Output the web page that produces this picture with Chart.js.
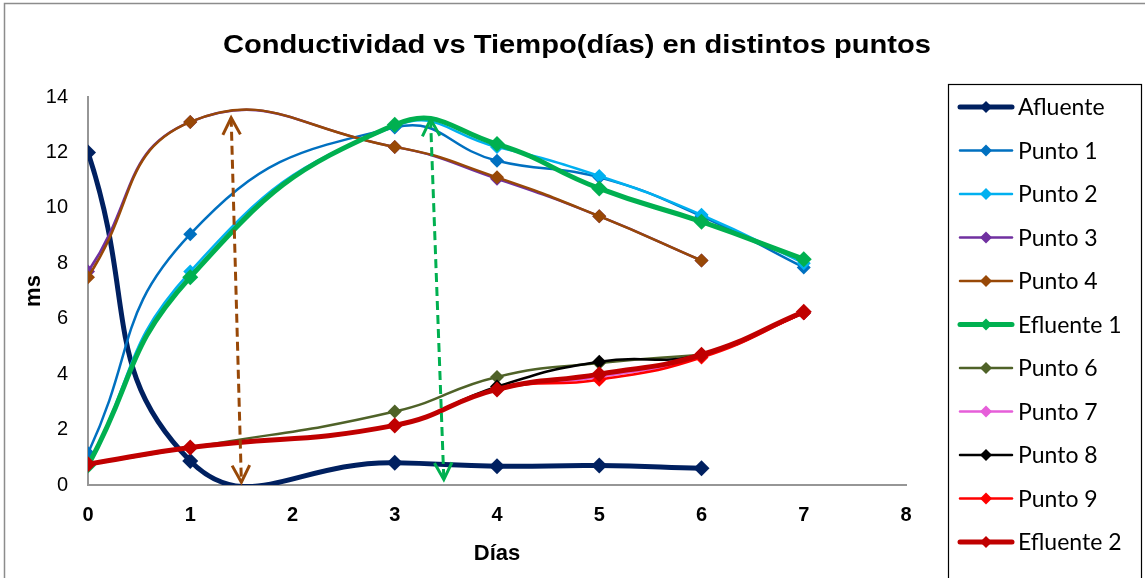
<!DOCTYPE html>
<html lang="es">
    <head>
        <meta charset="UTF-8" />
        <title>Conductividad vs Tiempo</title>
        <script src="https://cdn.jsdelivr.net/npm/chart.js"></script>
        <style>
            html, body { margin: 0; padding: 0; background: #fff; }
            #wrap { position: relative; width: 1145px; height: 578px; }
        </style>
    </head>
    <body>
        <div id="wrap"><canvas id="chart" width="1145" height="578"></canvas></div>

        <script>
            // días de muestreo
            const dias = [0, 1, 3, 4, 5, 6, 7];

            // conductividad (ms) por punto de muestreo
            const afluente = [12.0, 0.87, 0.8, 0.68, 0.7, 0.6];
            const punto1 = [1.15, 9.05, 12.9, 11.7, 11.1, 9.7, 7.85];
            const punto2 = [0.7, 7.7, 12.95, 12.2, 11.15, 9.75, 8.0];
            const punto3 = [7.7, 13.1, 12.2, 11.05, 9.7, 8.1];
            const punto4 = [7.5, 13.1, 12.2, 11.1, 9.7, 8.1];
            const efluente1 = [0.7, 7.5, 13.0, 12.3, 10.7, 9.5, 8.15];
            const punto6 = [0.75, 1.35, 2.65, 3.9, 4.4, 4.7];
            const punto7 = [0.75, 1.35, 2.15, 3.45, 3.9, 4.65, 6.2];
            const punto8 = [0.75, 1.35, 2.15, 3.55, 4.45, 4.7, 6.2];
            const punto9 = [0.75, 1.35, 2.15, 3.45, 3.8, 4.6, 6.2];
            const efluente2 = [0.75, 1.35, 2.15, 3.45, 4.0, 4.7, 6.25];

            const xTicks = [0, 1, 2, 3, 4, 5, 6, 7, 8];
            const yTicks = [0, 2, 4, 6, 8, 10, 12, 14];

            // flechas punteadas (x, y de inicio y fin)
            const flechaMarronX = [1.4, 1.5];
            const flechaMarronY = [13.25, 0.1];
            const flechaVerdeX = [3.35, 3.48];
            const flechaVerdeY = [13.2, 0.2];

            const titulo = 'Conductividad vs Tiempo(días) en distintos puntos';

            const series = [
                { label: 'Afluente', data: afluente, color: '#002060', width: 5 },
                { label: 'Punto 1', data: punto1, color: '#0070C0', width: 2.5 },
                { label: 'Punto 2', data: punto2, color: '#00B0F0', width: 2.5 },
                { label: 'Punto 3', data: punto3, color: '#7030A0', width: 2.5 },
                { label: 'Punto 4', data: punto4, color: '#984807', width: 2.5 },
                { label: 'Efluente 1', data: efluente1, color: '#00B050', width: 5 },
                { label: 'Punto 6', data: punto6, color: '#4F6228', width: 2.5 },
                { label: 'Punto 7', data: punto7, color: '#E65ED9', width: 2.5 },
                { label: 'Punto 8', data: punto8, color: '#000000', width: 2.5 },
                { label: 'Punto 9', data: punto9, color: '#FF0000', width: 2.5 },
                { label: 'Efluente 2', data: efluente2, color: '#C00000', width: 5 }
            ];

            const datasets = series.map((s, i) => ({
                label: s.label,
                data: s.data.map((v, j) => ({ x: dias[j], y: v })),
                borderColor: s.color,
                backgroundColor: s.color,
                borderWidth: s.width,
                pointStyle: 'rectRot',
                pointRadius: s.width > 3 ? 8 : 7,
                pointBorderWidth: 0,
                tension: 0.48,
                fill: false,
                order: series.length - i
            }));

            function drawArrow(ctx, x1, y1, x2, y2, color) {
                ctx.save();
                ctx.strokeStyle = color;
                ctx.lineWidth = 3;
                ctx.setLineDash([9, 5]);
                ctx.beginPath();
                ctx.moveTo(x1, y1);
                ctx.lineTo(x2, y2);
                ctx.stroke();
                ctx.setLineDash([]);
                const head = (px, py, ang) => {
                    const len = 19, spread = 0.48;
                    ctx.beginPath();
                    ctx.moveTo(px - len * Math.cos(ang - spread), py - len * Math.sin(ang - spread));
                    ctx.lineTo(px, py);
                    ctx.lineTo(px - len * Math.cos(ang + spread), py - len * Math.sin(ang + spread));
                    ctx.stroke();
                };
                const a = Math.atan2(y2 - y1, x2 - x1);
                head(x2, y2, a);
                head(x1, y1, a + Math.PI);
                ctx.restore();
            }

            const extras = {
                id: 'extras',
                afterDatasetsDraw(chart) {
                    const ctx = chart.ctx;
                    const xs = chart.scales.x, ys = chart.scales.y;
                    drawArrow(ctx,
                        xs.getPixelForValue(flechaMarronX[0]), ys.getPixelForValue(flechaMarronY[0]),
                        xs.getPixelForValue(flechaMarronX[1]), ys.getPixelForValue(flechaMarronY[1]), '#984807');
                    drawArrow(ctx,
                        xs.getPixelForValue(flechaVerdeX[0]), ys.getPixelForValue(flechaVerdeY[0]),
                        xs.getPixelForValue(flechaVerdeX[1]), ys.getPixelForValue(flechaVerdeY[1]), '#00B050');
                },
                afterDraw(chart) {
                    const ctx = chart.ctx;
                    ctx.save();
                    // marco exterior
                    ctx.strokeStyle = '#8c8c8c';
                    ctx.lineWidth = 1.5;
                    ctx.strokeRect(4.5, 3.5, 1150, 590);
                    // título (algo ensanchado, como en la figura original)
                    ctx.fillStyle = '#000';
                    ctx.font = 'bold 26px "Liberation Sans", Arial, sans-serif';
                    ctx.textAlign = 'center';
                    ctx.textBaseline = 'middle';
                    ctx.translate(577, 46);
                    ctx.scale(1.12, 1);
                    ctx.fillText(titulo, 0, 0);
                    ctx.setTransform(1, 0, 0, 1, 0, 0);
                    ctx.textAlign = 'left';
                    // leyenda
                    ctx.strokeStyle = '#000';
                    ctx.lineWidth = 1.2;
                    ctx.strokeRect(948.5, 84.5, 193, 510);
                    ctx.font = '23px Lato, "Open Sans", sans-serif';
                    chart.data.datasets.forEach((d, i) => {
                        const y = 107 + i * 43.5;
                        ctx.strokeStyle = d.borderColor;
                        ctx.lineWidth = d.borderWidth;
                        ctx.lineCap = 'round';
                        ctx.beginPath();
                        ctx.moveTo(960, y);
                        ctx.lineTo(1012, y);
                        ctx.stroke();
                        ctx.fillStyle = d.borderColor;
                        ctx.beginPath();
                        ctx.moveTo(986, y - 6);
                        ctx.lineTo(992, y);
                        ctx.lineTo(986, y + 6);
                        ctx.lineTo(980, y);
                        ctx.closePath();
                        ctx.fill();
                        ctx.fillStyle = '#000';
                        ctx.fillText(d.label, 1018, y + 1);
                    });
                    ctx.restore();
                }
            };

            new Chart(document.getElementById('chart'), {
                type: 'line',
                data: { datasets },
                plugins: [extras],
                options: {
                    responsive: false,
                    animation: false,
                    events: [],
                    layout: { padding: { left: 10, right: 239, top: 97, bottom: 0 } },
                    elements: { line: { capBezierPoints: false } },
                    plugins: {
                        legend: { display: false },
                        tooltip: { enabled: false },
                        title: { display: false }
                    },
                    scales: {
                        x: {
                            type: 'linear',
                            min: 0,
                            max: 8,
                            afterBuildTicks: (s) => { s.ticks = xTicks.map(v => ({ value: v })); },
                            afterFit: (s) => { s.height = 93; },
                            grid: { display: false, drawTicks: false },
                            border: { color: '#969696', width: 2 },
                            ticks: {
                                padding: 18,
                                color: '#000',
                                font: { family: 'Liberation Sans, Arial, sans-serif', size: 20, weight: 'bold' }
                            },
                            title: {
                                display: true,
                                text: 'Días',
                                color: '#000',
                                padding: { top: 6, bottom: 11 },
                                font: { family: 'Liberation Sans, Arial, sans-serif', size: 22, weight: 'bold' }
                            }
                        },
                        y: {
                            min: 0,
                            max: 14,
                            afterBuildTicks: (s) => { s.ticks = yTicks.map(v => ({ value: v })); },
                            afterFit: (s) => { s.width = 78; },
                            grid: { display: false, drawTicks: false },
                            border: { color: '#969696', width: 2 },
                            ticks: {
                                padding: 20,
                                color: '#000',
                                font: { family: 'Liberation Sans, Arial, sans-serif', size: 20 }
                            },
                            title: {
                                display: true,
                                text: 'ms',
                                color: '#000',
                                padding: { top: 11, bottom: 0 },
                                font: { family: 'Liberation Sans, Arial, sans-serif', size: 22, weight: 'bold' }
                            }
                        }
                    }
                }
            });
        </script>
    </body>
</html>
